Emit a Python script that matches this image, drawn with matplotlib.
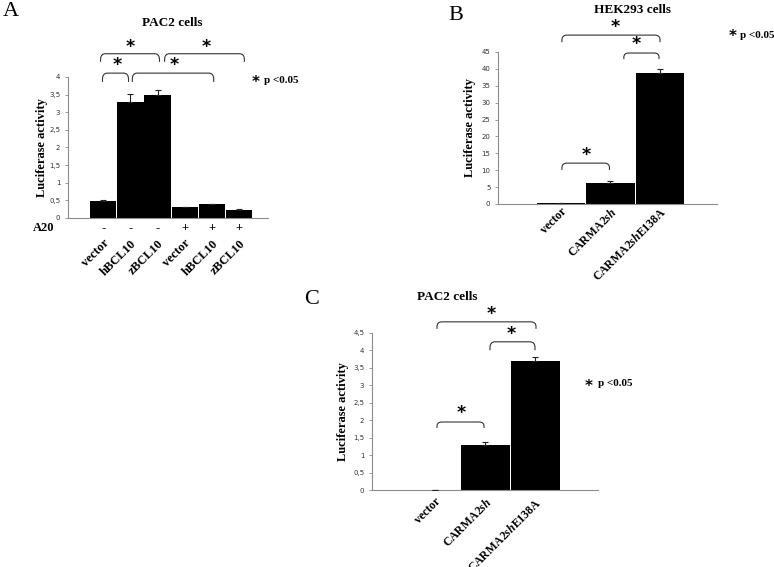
import matplotlib
matplotlib.use("Agg")
import matplotlib.pyplot as plt
from matplotlib.path import Path
from matplotlib.patches import PathPatch

plt.rcParams['mathtext.fontset'] = 'custom'
plt.rcParams['mathtext.rm'] = 'Liberation Serif:bold'
plt.rcParams['mathtext.it'] = 'Liberation Serif:italic:bold'
plt.rcParams['mathtext.bf'] = 'Liberation Serif:bold'

SERIF = 'Liberation Serif'
SANS = 'DejaVu Sans'

# ---------------- data ----------------
a_labels = ["vector", "hBCL10", "zBCL10", "vector", "hBCL10", "zBCL10"]
a_a20 = ["-", "-", "-", "+", "+", "+"]
a_values = [0.49, 3.30, 3.49, 0.30, 0.39, 0.24]
a_errors = [0.03, 0.23, 0.13, 0.02, 0.02, 0.02]
a_yticks = [0, 0.5, 1, 1.5, 2, 2.5, 3, 3.5, 4]
a_yticklabels = ["0", "0,5", "1", "1,5", "2", "2,5", "3", "3,5", "4"]

b_labels = ["vector", r"CARMA2$\mathit{sh}$", r"CARMA2$\mathit{sh}$E138A"]
b_values = [0.2, 6.1, 38.8]
b_errors = [0.1, 0.7, 1.3]
b_yticks = [0, 5, 10, 15, 20, 25, 30, 35, 40, 45]
b_yticklabels = ["0", "5", "10", "15", "20", "25", "30", "35", "40", "45"]

c_labels = ["vector", r"CARMA2$\mathit{sh}$", r"CARMA2$\mathit{sh}$E138A"]
c_values = [0.01, 1.29, 3.69]
c_errors = [0.01, 0.10, 0.13]
c_yticks = [0, 0.5, 1, 1.5, 2, 2.5, 3, 3.5, 4, 4.5]
c_yticklabels = ["0", "0,5", "1", "1,5", "2", "2,5", "3", "3,5", "4", "4,5"]

# significance brackets: (x1, x2, y_base, y_top, star_x, star_y)
a_brackets = [(-0.03, 0.93, 3.86, 4.11, 0.52, 4.33),
              (-0.1, 2.07, 4.43, 4.66, 1.00, 4.85),
              (1.07, 4.07, 3.86, 4.11, 2.60, 4.33),
              (2.26, 5.2, 4.43, 4.66, 3.78, 4.85)]
b_brackets = [(0.02, 2.0, 47.9, 50.0, 1.10, 52.4),
              (1.27, 1.98, 42.9, 44.7, 1.51, 47.4),
              (0.02, 0.98, 10.1, 12.1, 0.51, 14.5)]
c_brackets = [(0.04, 2.02, 4.61, 4.81, 1.12, 5.04),
              (1.1, 2.0, 4.00, 4.24, 1.52, 4.47),
              (0.04, 0.98, 1.78, 1.95, 0.52, 2.21)]

fig = plt.figure(figsize=(7.74, 5.67), dpi=100)
W, H = 774.0, 567.0


def px_axes(l, t, r, b):
    return fig.add_axes([l / W, 1 - b / H, (r - l) / W, (b - t) / H])


def style(ax, yticks, yticklabels):
    for s in ['top', 'right']:
        ax.spines[s].set_visible(False)
    for s in ['left', 'bottom']:
        ax.spines[s].set_color('#8c8c8c')
        ax.spines[s].set_linewidth(0.8)
    ax.set_yticks(yticks)
    ax.set_yticklabels(yticklabels, fontfamily=SANS, fontsize=5, color='#333333')
    ax.tick_params(axis='y', length=2.5, width=0.6, color='#8c8c8c', pad=3)
    ax.tick_params(axis='x', length=0)
    ax.set_ylabel("Luciferase activity", fontfamily=SERIF, fontweight='bold', fontsize=9)


def bars(ax, values, errors, width):
    x = list(range(len(values)))
    ax.bar(x, values, width=width, color='black', edgecolor='none', zorder=2)
    ax.errorbar(x, values, yerr=[[0] * len(errors), errors], fmt='none',
                ecolor='#222222', elinewidth=0.8, capsize=2.2, capthick=0.8, zorder=3)
    return x


def bracket(ax, x1, x2, yb, yt, sx, sy, rx):
    ry = (yt - yb) * 0.7
    verts = [(x1, yb), (x1, yt - ry), (x1, yt), (x1 + rx, yt),
             (x2 - rx, yt), (x2, yt), (x2, yt - ry), (x2, yb)]
    codes = [Path.MOVETO, Path.LINETO, Path.CURVE3, Path.CURVE3,
             Path.LINETO, Path.CURVE3, Path.CURVE3, Path.LINETO]
    ax.add_patch(PathPatch(Path(verts, codes), fill=False, lw=0.8,
                           edgecolor='#333333', clip_on=False))
    ax.text(sx, sy, "*", ha='center', va='center', fontsize=12.5, fontweight='bold',
            fontfamily=SANS, clip_on=False)


def legend_note(xs, xp, y):
    fig.text(xs / W, 1 - (y + 2) / H, "*", ha='center', va='center', fontfamily=SANS,
             fontweight='bold', fontsize=11)
    fig.text(xp / W, 1 - y / H, "p <0.05", ha='left', va='center', fontfamily=SERIF,
             fontweight='bold', fontsize=8)


# ---------------- Panel A ----------------
axA = px_axes(68, 77, 268, 218)
xa = bars(axA, a_values, a_errors, 0.97)
axA.set_xlim(-1.3, 6.07)
axA.set_ylim(0, 4)
style(axA, a_yticks, a_yticklabels)
axA.set_xticks(xa)
axA.set_xticklabels(a_labels, rotation=45, ha='right', va='top', rotation_mode='anchor',
                    fontfamily=SERIF, fontweight='bold', fontsize=9)
axA.tick_params(axis='x', pad=14)
for xi, s in zip(xa, a_a20):
    axA.text(xi, -0.29, s, ha='center', va='center', fontfamily=SERIF,
             fontweight='bold', fontsize=9, clip_on=False)
axA.text(-2.2, -0.29, "A20", ha='center', va='center', fontfamily=SERIF,
         fontweight='bold', fontsize=9, clip_on=False)
for br in a_brackets:
    bracket(axA, *br, rx=0.18)
axA.yaxis.set_label_coords(-0.10, 0.5)
fig.text(172 / W, 1 - 23 / H, "PAC2 cells", ha='center', va='center',
         fontfamily=SERIF, fontweight='bold', fontsize=9.5)
fig.text(3 / W, 1 - 12 / H, "A", ha='left', va='center', fontfamily=SERIF, fontsize=16)
legend_note(256, 264, 81)

# ---------------- Panel B ----------------
axB = px_axes(498, 52, 717, 204)
xb = bars(axB, b_values, b_errors, 0.98)
axB.set_xlim(-1.27, 3.15)
axB.set_ylim(0, 45)
style(axB, b_yticks, b_yticklabels)
axB.set_xticks(xb)
axB.set_xticklabels(b_labels, rotation=45, ha='right', va='top', rotation_mode='anchor',
                    fontfamily=SERIF, fontweight='bold', fontsize=8.5)
axB.tick_params(axis='x', pad=1)
for br in b_brackets:
    bracket(axB, *br, rx=0.1)
axB.yaxis.set_label_coords(-0.10, 0.5)
fig.text(632 / W, 1 - 10 / H, "HEK293 cells", ha='center', va='center',
         fontfamily=SERIF, fontweight='bold', fontsize=9.5)
fig.text(448 / W, 1 - 15 / H, "B", ha='left', va='center', fontfamily=SERIF, fontsize=16)
legend_note(733, 740, 35)

# ---------------- Panel C ----------------
axC = px_axes(372, 332.7, 598, 490.3)
xc = bars(axC, c_values, c_errors, 0.98)
axC.set_xlim(-1.26, 3.26)
axC.set_ylim(0, 4.5)
style(axC, c_yticks, c_yticklabels)
axC.set_xticks(xc)
axC.set_xticklabels(c_labels, rotation=45, ha='right', va='top', rotation_mode='anchor',
                    fontfamily=SERIF, fontweight='bold', fontsize=8.5)
axC.tick_params(axis='x', pad=4)
for br in c_brackets:
    bracket(axC, *br, rx=0.1)
axC.yaxis.set_label_coords(-0.10, 0.5)
fig.text(447 / W, 1 - 297 / H, "PAC2 cells", ha='center', va='center',
         fontfamily=SERIF, fontweight='bold', fontsize=9.5)
fig.text(304 / W, 1 - 300 / H, "C", ha='left', va='center', fontfamily=SERIF, fontsize=16)
legend_note(589, 598, 384)

fig.savefig("out.png", dpi=100, facecolor='white')
